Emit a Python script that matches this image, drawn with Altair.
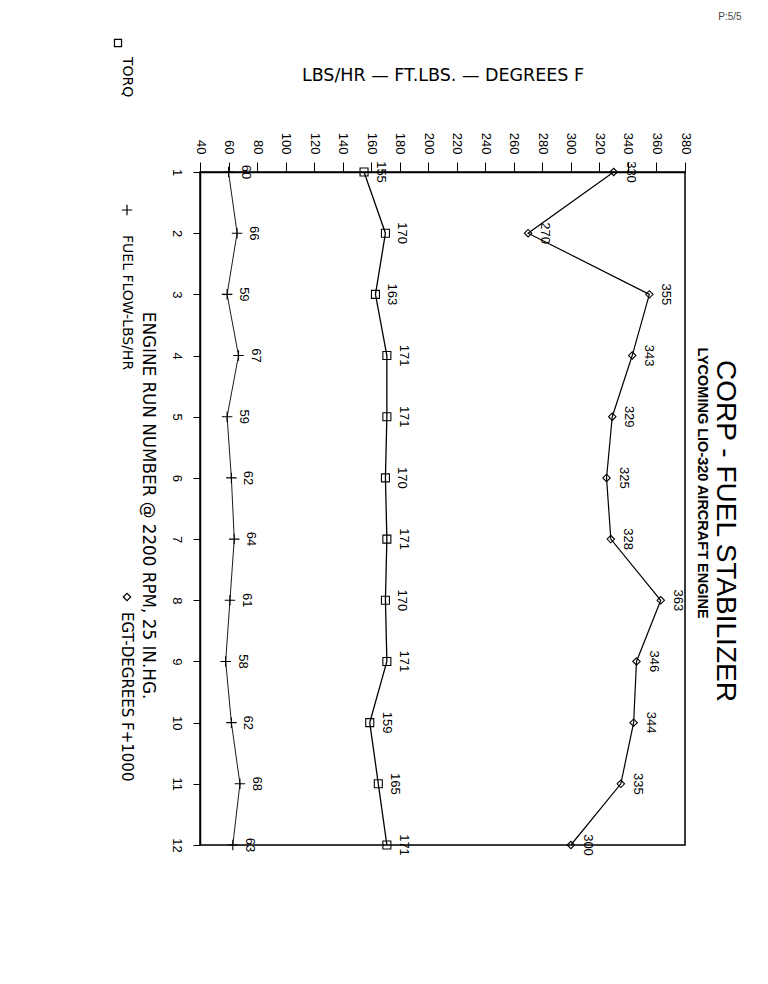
import altair as alt
import pandas as pd

# ---------------- data ----------------
runs = list(range(1, 13))
torq = [155, 170, 163, 171, 171, 170, 171, 170, 171, 159, 165, 171]
fuel = [60, 66, 59, 67, 59, 62, 64, 61, 58, 62, 68, 63]
egt = [330, 270, 355, 343, 329, 325, 328, 363, 346, 344, 335, 300]
value_ticks = list(range(40, 381, 20))

rows = []
for series, vals in [("TORQ", torq), ("FUEL", fuel), ("EGT", egt)]:
    for r, v in zip(runs, vals):
        rows.append({"run": r, "value": v, "series": series})
df = pd.DataFrame(rows)

FONT = "Liberation Sans"
WIDE = "DejaVu Sans"
W, H = 485, 673

xs = alt.Scale(domain=[40, 380], nice=False, zero=False)
ys = alt.Scale(domain=[1, 12], nice=False, zero=False, reverse=True)

x_axis = alt.Axis(
    orient="top", values=value_ticks, labelAngle=90, labelAlign="right",
    labelBaseline="middle", tickSize=10, labelPadding=8, labelFontSize=13,
    labelFont=FONT, labelColor="black", tickColor="black", domainColor="black",
    domainWidth=1.5, grid=False,
    title="LBS/HR \u2014 FT.LBS. \u2014 DEGREES F", titleX=W / 2, titleY=-97,
    titleAngle=0, titleAlign="center", titleBaseline="middle",
    titleFontSize=17.5, titleFontWeight="normal", titleFont=WIDE, titleColor="black",
)
y_axis = alt.Axis(
    orient="left", values=runs, labelAngle=90, labelAlign="center",
    labelBaseline="top", tickSize=7, labelPadding=11, labelFontSize=13,
    labelFont=FONT, labelColor="black", tickColor="black", domainColor="black",
    domainWidth=1.5, grid=False,
    title="ENGINE RUN NUMBER @ 2200 RPM, 25 IN.HG.", titleX=-53, titleY=333,
    titleAngle=90, titleAlign="center", titleBaseline="middle",
    titleFontSize=16.8, titleFontWeight="normal", titleFont=WIDE, titleColor="black",
)

X = alt.X("value:Q", scale=xs, axis=x_axis)
Y = alt.Y("run:Q", scale=ys, axis=y_axis)

base = alt.Chart(df)


def series_layers(name, width, shape, size, filled=False):
    d = base.transform_filter(alt.datum.series == name)
    line = d.mark_line(color="black", strokeWidth=width).encode(x=X, y=Y, order="run:Q")
    pts = d.mark_point(shape=shape, size=size, filled=filled, color="black",
                       strokeWidth=1.1, opacity=1).encode(x=X, y=Y)
    lab = d.mark_text(angle=90, align="center", baseline="middle", dy=-17,
                      fontSize=13, font=FONT, color="black").encode(
        x=X, y=Y, text="value:Q")
    return [line, pts, lab]


PLUS = "M-1,0H1M0,-1V1"
layers = []
layers += series_layers("TORQ", 1.3, "square", 64)
layers += series_layers("FUEL", 0.9, PLUS, 110)
layers += series_layers("EGT", 1.2, "diamond", 55)

one = pd.DataFrame({"k": [0]})

frame = alt.Chart(one).mark_rect(fill=None, stroke="black", strokeWidth=1.5).encode(
    x=alt.value(0), x2=alt.value(W), y=alt.value(0), y2=alt.value(H)
)


def note(text, x, y, size=13, angle=90, align="center", weight="normal", font=FONT,
         color="black"):
    return alt.Chart(one).mark_text(
        text=text, angle=angle, align=align, baseline="middle",
        fontSize=size, font=font, fontWeight=weight, color=color
    ).encode(x=alt.value(x), y=alt.value(y))


def sym(shape, x, y, size):
    return alt.Chart(one).mark_point(
        shape=shape, size=size, filled=False, color="black", strokeWidth=1.2, opacity=1
    ).encode(x=alt.value(x), y=alt.value(y))


annotations = [
    note("P:5/5", 530, -155, size=10, angle=0, color="#444444"),
    note("CORP - FUEL STABILIZER", 525, 359, size=28),
    note("LYCOMING LIO-320 AIRCRAFT ENGINE", 502, 311, size=14.5, weight="bold"),
    sym("square", -82, -129, 50),
    note("TORQ", -73, -115, align="left", size=14, font=WIDE),
    sym(PLUS, -73, 38, 110),
    note("FUEL FLOW-LBS/HR", -73, 63, align="left", size=14, font=WIDE),
    sym("diamond", -73, 425, 55),
    note("EGT-DEGREES F+1000", -73, 440, align="left", size=15, font=WIDE),
]

chart = alt.layer(frame, *layers, *annotations).properties(
    width=W, height=H,
    padding={"left": 192, "top": 164, "right": 75, "bottom": 131},
    autosize=alt.AutoSizeParams(type="none"),
).configure_view(stroke=None, fill="white").configure(
    background="white"
)

chart.save("out.html", embed_options={"renderer": "svg", "actions": False})
